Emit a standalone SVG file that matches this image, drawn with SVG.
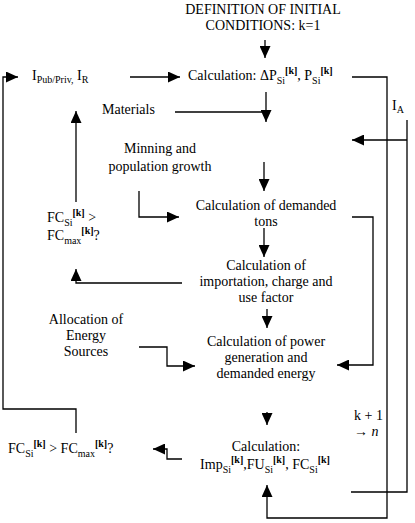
<svg xmlns="http://www.w3.org/2000/svg" width="415" height="523" viewBox="0 0 415 523">
<defs>
<style>
text{font-family:"Liberation Serif","Times New Roman",serif;font-size:14px;fill:#000}
.m{text-anchor:middle}
.s{font-size:10px}
.k{font-size:10px;font-weight:bold}
.c{fill:none;stroke:#000;stroke-width:1.3}
</style>
<marker id="ah" markerUnits="userSpaceOnUse" markerWidth="13" markerHeight="11" refX="12" refY="5.5" orient="auto">
<path d="M0,0 L12,5.5 L0,11 z" fill="#000"/>
</marker>
</defs>
<rect width="415" height="523" fill="#fff"/>
<g id="connectors">
<path class="c" d="M265,40 V58" marker-end="url(#ah)"/>
<path class="c" d="M76,433 V409 H3 V77 H18" marker-end="url(#ah)"/>
<path class="c" d="M130,77 H180" marker-end="url(#ah)"/>
<path class="c" d="M352,77 H387 V518 H267 V485" marker-end="url(#ah)"/>
<path class="c" d="M266,92 V122" marker-end="url(#ah)"/>
<path class="c" d="M175,112 H266"/>
<path class="c" d="M407,120 V492 H351"/>
<path class="c" d="M407,140 H352" marker-end="url(#ah)"/>
<path class="c" d="M76,202 V111" marker-end="url(#ah)"/>
<path class="c" d="M139,191 V217 H179" marker-end="url(#ah)"/>
<path class="c" d="M264,162 V191" marker-end="url(#ah)"/>
<path class="c" d="M352,217 H373 V365 H337" marker-end="url(#ah)"/>
<path class="c" d="M264,228 V257" marker-end="url(#ah)"/>
<path class="c" d="M182,283 H76 V269" marker-end="url(#ah)"/>
<path class="c" d="M267,309 V328" marker-end="url(#ah)"/>
<path class="c" d="M139,347 H167 V366 H195" marker-end="url(#ah)"/>
<path class="c" d="M267,412 V425" marker-end="url(#ah)"/>
<path class="c" d="M182,459 H167 V449 H153" marker-end="url(#ah)"/>
</g>
<g id="init">
<text class="m" x="263" y="14">DEFINITION OF INITIAL</text>
<text class="m" x="263" y="30">CONDITIONS: k=1</text>
</g>
<g id="ipub">
<text x="32" y="80">I<tspan class="s" dy="3">Pub/Priv,</tspan><tspan dy="-3"> I</tspan><tspan class="s" dy="3">R</tspan></text>
</g>
<g id="calc1">
<text x="188" y="80">Calculation: ΔP<tspan class="s" dy="4">Si</tspan><tspan class="k" dy="-10">[k]</tspan><tspan dy="6">, P</tspan><tspan class="s" dy="4">Si</tspan><tspan class="k" dy="-10">[k]</tspan></text>
</g>
<g id="materials">
<text x="102" y="114">Materials</text>
</g>
<g id="ia">
<text x="392" y="110">I<tspan class="s" dy="3">A</tspan></text>
</g>
<g id="minning">
<text class="m" x="160" y="153">Minning and</text>
<text class="m" x="160" y="171">population growth</text>
</g>
<g id="fc1">
<text x="47" y="222">FC<tspan class="s" dy="4">Si</tspan><tspan class="k" dy="-10">[k]</tspan><tspan dy="6"> &gt;</tspan></text>
<text x="47" y="240">FC<tspan class="s" dy="4">max</tspan><tspan class="k" dy="-10">[k]</tspan><tspan dy="6">?</tspan></text>
</g>
<g id="tons">
<text class="m" x="266" y="210">Calculation of demanded</text>
<text class="m" x="266" y="226">tons</text>
</g>
<g id="import">
<text class="m" x="266" y="270">Calculation of</text>
<text class="m" x="266" y="286">importation, charge and</text>
<text class="m" x="266" y="302">use factor</text>
</g>
<g id="alloc">
<text class="m" x="86" y="324">Allocation of</text>
<text class="m" x="86" y="340">Energy</text>
<text class="m" x="86" y="356">Sources</text>
</g>
<g id="power">
<text class="m" x="266" y="346">Calculation of power</text>
<text class="m" x="266" y="362">generation and</text>
<text class="m" x="266" y="378">demanded energy</text>
</g>
<g id="fc2">
<text x="8" y="453">FC<tspan class="s" dy="4">Si</tspan><tspan class="k" dy="-10">[k]</tspan><tspan dy="6"> &gt; FC</tspan><tspan class="s" dy="4">max</tspan><tspan class="k" dy="-10">[k]</tspan><tspan dy="6">?</tspan></text>
</g>
<g id="calc2">
<text class="m" x="266" y="451">Calculation:</text>
<text class="m" x="265" y="469">Imp<tspan class="s" dy="4">Si</tspan><tspan class="k" dy="-10">[k]</tspan><tspan dy="6">,FU</tspan><tspan class="s" dy="4">Si</tspan><tspan class="k" dy="-10">[k]</tspan><tspan dy="6">, FC</tspan><tspan class="s" dy="4">Si</tspan><tspan class="k" dy="-10">[k]</tspan></text>
</g>
<g id="k1">
<text x="354" y="420">k + 1</text>
<text x="354" y="436">→ <tspan font-style="italic">n</tspan></text>
</g>
</svg>
